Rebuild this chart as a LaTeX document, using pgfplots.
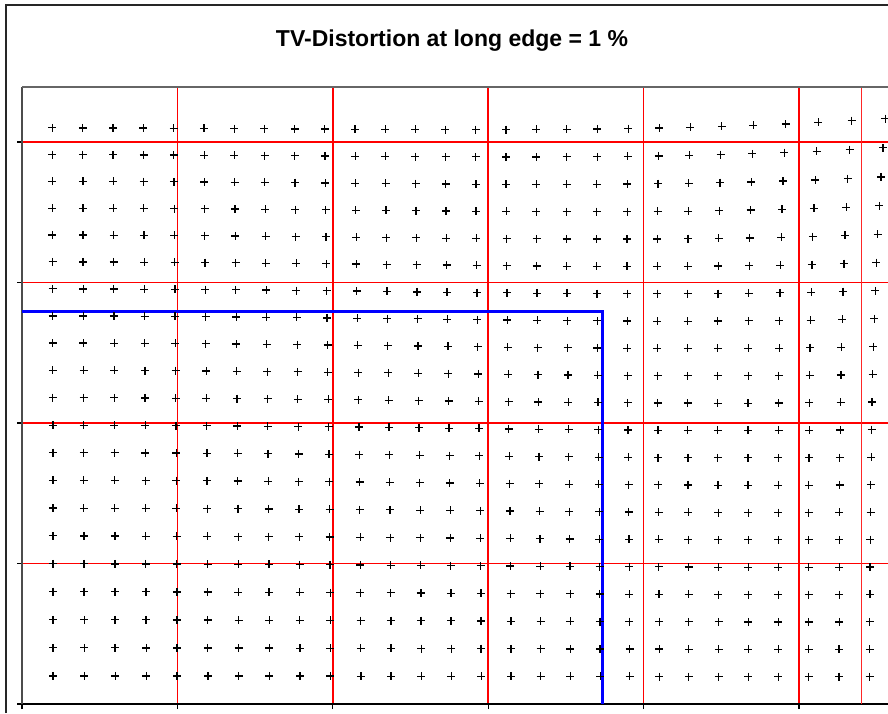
\documentclass[border=0pt]{standalone}
\usepackage{fontspec}
\setmainfont{Liberation Sans}
\usepackage{pgfplots}
\pgfplotsset{compat=1.18}
\pgfplotsset{dotgrid/.style={only marks, mark=+, mark size=2pt, black, mark options={line width=0.6pt}}}
\begin{document}
\begin{tikzpicture}
\useasboundingbox[fill=white] (-11pt,-4.5pt) rectangle (433pt,352pt);
\begin{axis}[name=ax, at={(0pt,0pt)}, anchor=south west,
  scale only axis, width=433pt, height=308.47pt,
  xmin=0, xmax=5.5727, ymin=0, ymax=4.391,
  axis lines*=left,
  axis line style={-, line width=0.9pt},
  x axis line style={black},
  y axis line style={black!70},
  xtick={0,1,2,3,4,5}, ytick={0,1,2,3,4},
  xticklabels={}, yticklabels={},
  tick align=outside, major tick length=2.5pt,
  major tick style={black, line width=0.6pt},
  grid=major, major grid style={draw=red, line width=0.8pt},
  clip=false,
]
\addplot[red!85, line width=0.8pt, no marks] coordinates {(5.403,0) (5.403,4.391)};
\addplot[blue, line width=1.5pt, line join=miter, no marks] coordinates {(0,2.792) (3.735,2.792) (3.735,0)};
\addplot[dotgrid] coordinates {(0.200,0.200) (0.400,0.200) (0.600,0.200) (0.799,0.200) (0.998,0.200) (1.197,0.199) (1.395,0.199) (1.592,0.199) (1.789,0.199) (1.985,0.199) (2.181,0.198) (2.375,0.198) (2.569,0.198) (2.762,0.197) (2.955,0.197) (3.147,0.197) (3.338,0.196) (3.529,0.196) (3.720,0.196) (3.910,0.196) (4.101,0.195) (4.291,0.195) (4.482,0.195) (4.674,0.195) (4.867,0.195) (5.061,0.195) (5.257,0.195) (5.455,0.195)};
\addplot[dotgrid] coordinates {(0.200,0.400) (0.400,0.400) (0.599,0.400) (0.799,0.399) (0.998,0.399) (1.196,0.399) (1.394,0.398) (1.592,0.398) (1.789,0.397) (1.985,0.397) (2.180,0.396) (2.375,0.396) (2.569,0.395) (2.762,0.395) (2.954,0.394) (3.146,0.393) (3.338,0.393) (3.529,0.392) (3.719,0.392) (3.910,0.391) (4.100,0.391) (4.291,0.390) (4.482,0.390) (4.674,0.390) (4.867,0.389) (5.061,0.389) (5.257,0.389) (5.456,0.390)};
\addplot[dotgrid] coordinates {(0.200,0.599) (0.400,0.599) (0.599,0.599) (0.798,0.599) (0.997,0.598) (1.196,0.598) (1.394,0.597) (1.591,0.597) (1.788,0.596) (1.984,0.595) (2.179,0.594) (2.374,0.594) (2.568,0.593) (2.761,0.592) (2.954,0.591) (3.146,0.590) (3.337,0.589) (3.528,0.588) (3.719,0.587) (3.909,0.586) (4.100,0.586) (4.291,0.585) (4.482,0.585) (4.674,0.584) (4.867,0.584) (5.061,0.584) (5.258,0.584) (5.456,0.585)};
\addplot[dotgrid] coordinates {(0.200,0.799) (0.399,0.799) (0.599,0.798) (0.798,0.798) (0.997,0.797) (1.195,0.797) (1.393,0.796) (1.590,0.795) (1.787,0.794) (1.983,0.793) (2.178,0.792) (2.373,0.791) (2.567,0.790) (2.760,0.789) (2.953,0.787) (3.145,0.786) (3.336,0.785) (3.527,0.784) (3.718,0.783) (3.908,0.782) (4.099,0.781) (4.290,0.780) (4.481,0.779) (4.674,0.779) (4.867,0.779) (5.062,0.779) (5.258,0.779) (5.457,0.780)};
\addplot[dotgrid] coordinates {(0.200,0.998) (0.399,0.998) (0.598,0.997) (0.797,0.997) (0.996,0.996) (1.194,0.995) (1.392,0.994) (1.589,0.993) (1.786,0.992) (1.982,0.991) (2.177,0.990) (2.372,0.988) (2.566,0.987) (2.759,0.985) (2.951,0.984) (3.143,0.982) (3.335,0.981) (3.526,0.979) (3.717,0.978) (3.907,0.977) (4.098,0.976) (4.289,0.975) (4.481,0.974) (4.673,0.974) (4.867,0.973) (5.062,0.973) (5.258,0.974) (5.457,0.975)};
\addplot[dotgrid] coordinates {(0.199,1.197) (0.399,1.196) (0.598,1.196) (0.797,1.195) (0.995,1.194) (1.193,1.193) (1.391,1.192) (1.588,1.191) (1.785,1.190) (1.980,1.188) (2.176,1.187) (2.370,1.185) (2.564,1.183) (2.757,1.182) (2.950,1.180) (3.142,1.178) (3.333,1.176) (3.524,1.175) (3.715,1.173) (3.906,1.172) (4.097,1.171) (4.288,1.170) (4.480,1.169) (4.673,1.168) (4.867,1.168) (5.062,1.168) (5.259,1.169) (5.459,1.170)};
\addplot[dotgrid] coordinates {(0.199,1.395) (0.398,1.394) (0.597,1.394) (0.796,1.393) (0.994,1.392) (1.192,1.391) (1.390,1.390) (1.587,1.388) (1.783,1.387) (1.979,1.385) (2.174,1.383) (2.368,1.382) (2.562,1.380) (2.755,1.378) (2.948,1.376) (3.140,1.374) (3.331,1.372) (3.523,1.370) (3.714,1.368) (3.905,1.367) (4.096,1.365) (4.287,1.364) (4.480,1.363) (4.673,1.363) (4.867,1.363) (5.062,1.363) (5.260,1.364) (5.460,1.365)};
\addplot[dotgrid] coordinates {(0.199,1.592) (0.398,1.592) (0.597,1.591) (0.795,1.590) (0.993,1.589) (1.191,1.588) (1.388,1.587) (1.585,1.585) (1.781,1.583) (1.977,1.582) (2.172,1.580) (2.366,1.578) (2.560,1.575) (2.753,1.573) (2.946,1.571) (3.138,1.569) (3.329,1.567) (3.521,1.565) (3.712,1.563) (3.903,1.561) (4.095,1.560) (4.286,1.559) (4.479,1.558) (4.672,1.557) (4.867,1.557) (5.063,1.558) (5.261,1.559) (5.462,1.560)};
\addplot[dotgrid] coordinates {(0.199,1.789) (0.397,1.789) (0.596,1.788) (0.794,1.787) (0.992,1.786) (1.190,1.785) (1.387,1.783) (1.583,1.781) (1.780,1.780) (1.975,1.777) (2.170,1.775) (2.364,1.773) (2.558,1.771) (2.751,1.768) (2.943,1.766) (3.136,1.764) (3.327,1.761) (3.519,1.759) (3.710,1.757) (3.902,1.756) (4.093,1.754) (4.285,1.753) (4.478,1.752) (4.672,1.752) (4.867,1.752) (5.064,1.753) (5.263,1.754) (5.464,1.756)};
\addplot[dotgrid] coordinates {(0.199,1.985) (0.397,1.985) (0.595,1.984) (0.793,1.983) (0.991,1.982) (1.188,1.980) (1.385,1.979) (1.582,1.977) (1.777,1.975) (1.973,1.973) (2.168,1.971) (2.362,1.968) (2.555,1.966) (2.748,1.963) (2.941,1.961) (3.133,1.958) (3.325,1.956) (3.517,1.954) (3.708,1.952) (3.900,1.950) (4.092,1.949) (4.284,1.947) (4.478,1.947) (4.672,1.947) (4.868,1.947) (5.065,1.948) (5.265,1.950) (5.467,1.952)};
\addplot[dotgrid] coordinates {(0.198,2.180) (0.396,2.180) (0.594,2.179) (0.792,2.178) (0.990,2.177) (1.187,2.176) (1.383,2.174) (1.580,2.172) (1.775,2.170) (1.971,2.168) (2.165,2.165) (2.359,2.163) (2.553,2.160) (2.746,2.157) (2.939,2.155) (3.131,2.152) (3.323,2.150) (3.515,2.148) (3.706,2.146) (3.898,2.144) (4.091,2.143) (4.284,2.142) (4.477,2.141) (4.672,2.141) (4.869,2.142) (5.067,2.144) (5.267,2.146) (5.470,2.149)};
\addplot[dotgrid] coordinates {(0.198,2.375) (0.396,2.375) (0.594,2.374) (0.791,2.373) (0.988,2.372) (1.185,2.370) (1.382,2.368) (1.578,2.366) (1.773,2.364) (1.968,2.362) (2.163,2.359) (2.357,2.357) (2.550,2.354) (2.743,2.351) (2.936,2.349) (3.128,2.346) (3.320,2.344) (3.513,2.342) (3.705,2.340) (3.897,2.338) (4.090,2.337) (4.283,2.336) (4.477,2.336) (4.673,2.336) (4.870,2.338) (5.069,2.339) (5.270,2.342) (5.474,2.346)};
\addplot[dotgrid] coordinates {(0.198,2.569) (0.395,2.569) (0.593,2.568) (0.790,2.567) (0.987,2.566) (1.183,2.564) (1.380,2.562) (1.575,2.560) (1.771,2.558) (1.966,2.555) (2.160,2.553) (2.354,2.550) (2.548,2.548) (2.741,2.545) (2.933,2.542) (3.126,2.540) (3.318,2.537) (3.511,2.535) (3.703,2.534) (3.896,2.532) (4.089,2.531) (4.283,2.531) (4.478,2.531) (4.674,2.532) (4.872,2.533) (5.071,2.536) (5.273,2.539) (5.478,2.543)};
\addplot[dotgrid] coordinates {(0.197,2.762) (0.395,2.762) (0.592,2.761) (0.789,2.760) (0.985,2.759) (1.182,2.757) (1.378,2.755) (1.573,2.753) (1.768,2.751) (1.963,2.748) (2.157,2.746) (2.351,2.743) (2.545,2.741) (2.738,2.738) (2.931,2.735) (3.124,2.733) (3.316,2.731) (3.509,2.729) (3.701,2.727) (3.895,2.726) (4.088,2.725) (4.283,2.725) (4.478,2.726) (4.675,2.727) (4.874,2.729) (5.074,2.732) (5.278,2.737) (5.484,2.742)};
\addplot[dotgrid] coordinates {(0.197,2.955) (0.394,2.954) (0.591,2.954) (0.787,2.953) (0.984,2.951) (1.180,2.950) (1.376,2.948) (1.571,2.946) (1.766,2.943) (1.961,2.941) (2.155,2.939) (2.349,2.936) (2.542,2.933) (2.735,2.931) (2.928,2.928) (3.121,2.926) (3.314,2.924) (3.507,2.922) (3.700,2.921) (3.894,2.920) (4.088,2.920) (4.283,2.920) (4.479,2.921) (4.677,2.923) (4.877,2.926) (5.078,2.930) (5.283,2.935) (5.490,2.941)};
\addplot[dotgrid] coordinates {(0.197,3.147) (0.393,3.146) (0.590,3.146) (0.786,3.145) (0.982,3.143) (1.178,3.142) (1.374,3.140) (1.569,3.138) (1.764,3.136) (1.958,3.133) (2.152,3.131) (2.346,3.128) (2.540,3.126) (2.733,3.124) (2.926,3.121) (3.119,3.119) (3.312,3.118) (3.506,3.116) (3.699,3.115) (3.893,3.115) (4.088,3.115) (4.284,3.116) (4.481,3.117) (4.680,3.120) (4.880,3.123) (5.083,3.128) (5.289,3.134) (5.498,3.141)};
\addplot[dotgrid] coordinates {(0.196,3.338) (0.393,3.338) (0.589,3.337) (0.785,3.336) (0.981,3.335) (1.176,3.333) (1.372,3.331) (1.567,3.329) (1.761,3.327) (1.956,3.325) (2.150,3.323) (2.344,3.320) (2.537,3.318) (2.731,3.316) (2.924,3.314) (3.118,3.312) (3.311,3.311) (3.505,3.310) (3.699,3.309) (3.893,3.309) (4.089,3.310) (4.286,3.312) (4.484,3.314) (4.683,3.317) (4.885,3.322) (5.089,3.327) (5.296,3.335) (5.506,3.343)};
\addplot[dotgrid] coordinates {(0.196,3.529) (0.392,3.529) (0.588,3.528) (0.784,3.527) (0.979,3.526) (1.175,3.524) (1.370,3.523) (1.565,3.521) (1.759,3.519) (1.954,3.517) (2.148,3.515) (2.342,3.513) (2.535,3.511) (2.729,3.509) (2.922,3.507) (3.116,3.506) (3.310,3.505) (3.504,3.504) (3.699,3.504) (3.894,3.505) (4.090,3.506) (4.288,3.508) (4.487,3.512) (4.688,3.516) (4.891,3.521) (5.096,3.528) (5.304,3.536) (5.516,3.546)};
\addplot[dotgrid] coordinates {(0.196,3.720) (0.392,3.719) (0.587,3.719) (0.783,3.718) (0.978,3.717) (1.173,3.715) (1.368,3.714) (1.563,3.712) (1.757,3.710) (1.952,3.708) (2.146,3.706) (2.340,3.705) (2.534,3.703) (2.727,3.701) (2.921,3.700) (3.115,3.699) (3.309,3.699) (3.504,3.699) (3.699,3.699) (3.895,3.701) (4.093,3.703) (4.291,3.706) (4.491,3.710) (4.693,3.715) (4.897,3.722) (5.104,3.730) (5.314,3.740) (5.528,3.751)};
\addplot[dotgrid] coordinates {(0.196,3.910) (0.391,3.910) (0.586,3.909) (0.782,3.908) (0.977,3.907) (1.172,3.906) (1.367,3.905) (1.561,3.903) (1.756,3.902) (1.950,3.900) (2.144,3.898) (2.338,3.897) (2.532,3.896) (2.726,3.895) (2.920,3.894) (3.115,3.893) (3.309,3.893) (3.505,3.894) (3.701,3.895) (3.898,3.898) (4.096,3.901) (4.295,3.905) (4.496,3.910) (4.700,3.916) (4.905,3.924) (5.114,3.934) (5.325,3.945) (5.541,3.958)};
\addplot[dotgrid] coordinates {(0.195,4.101) (0.391,4.100) (0.586,4.100) (0.781,4.099) (0.976,4.098) (1.171,4.097) (1.365,4.096) (1.560,4.095) (1.754,4.093) (1.949,4.092) (2.143,4.091) (2.337,4.090) (2.531,4.089) (2.725,4.088) (2.920,4.088) (3.115,4.088) (3.310,4.089) (3.506,4.090) (3.703,4.093) (3.901,4.096) (4.100,4.100) (4.300,4.105) (4.503,4.111) (4.707,4.119) (4.915,4.128) (5.125,4.139) (5.338,4.152) (5.555,4.166)};
\end{axis}
\draw[black!60, line width=0.6pt] (ax.north west) -- (ax.north east);
\draw[black!85, line width=1pt] (-8pt,-4.5pt) -- (-8pt,349.5pt) -- (433pt,349.5pt);
\node[font=\bfseries\fontsize{11.5}{14}\selectfont, anchor=base] at (215pt,328.75pt) {TV-Distortion at long edge = 1 \%};
\end{tikzpicture}
\end{document}
